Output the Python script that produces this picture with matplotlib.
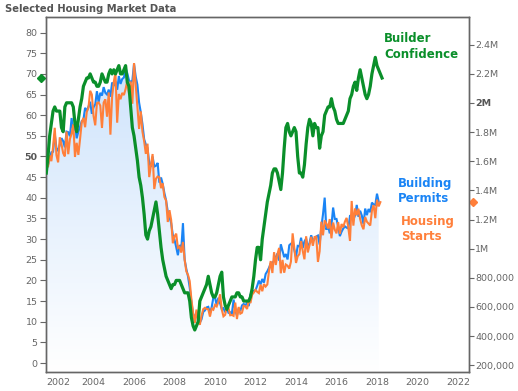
import numpy as np
import matplotlib
matplotlib.use("Agg")
import matplotlib.pyplot as plt
from matplotlib.transforms import ScaledTranslation
from matplotlib.patches import Polygon

# ---------------- data (monthly) ----------------
start_year, start_month = 2001, 9  # first observation: Sep 2001

# NAHB builder confidence index (Sep 2001 - Apr 2018)
builder_confidence = [
    46, 50, 55, 58,
    61, 62, 61, 61, 61, 57, 56, 62, 63, 63, 63, 63,
    62, 58, 56, 59, 62, 64, 67, 68, 69, 69, 70, 69,
    68, 68, 67, 67, 68, 70, 69, 68, 68, 70, 71, 70,
    71, 70, 71, 72, 70, 70, 71, 72, 68, 67, 62, 57,
    55, 52, 49, 45, 43, 40, 36, 31, 30, 32, 33, 35,
    37, 39, 36, 32, 28, 25, 23, 21, 20, 19, 18, 19,
    19, 20, 20, 20, 19, 18, 17, 17, 17, 15, 11, 9,
    8, 9, 10, 15, 16, 17, 18, 19, 21, 19, 17, 16,
    16, 17, 19, 21, 22, 16, 14, 13, 14, 15, 16, 16,
    16, 17, 17, 16, 16, 15, 15, 15, 15, 16, 18, 21,
    25, 28, 28, 25, 30, 33, 36, 39, 41, 43, 46, 47,
    47, 46, 44, 42, 46, 52, 57, 58, 56, 55, 56, 57,
    56, 50, 46, 46, 45, 48, 53, 57, 59, 58, 55, 58,
    57, 57, 52, 55, 56, 60, 61, 62, 62, 64, 62, 61,
    59, 58, 58, 58, 58, 59, 60, 61, 64, 65, 67, 68,
    66, 69, 71, 69, 67, 65, 64, 65, 67, 70, 72, 74,
    72, 71, 70, 69,
]

# Housing starts, thousands SAAR (Sep 2001 - Mar 2018)
housing_starts = [
    1590, 1560, 1640, 1600,
    1698, 1829, 1642, 1592, 1764, 1717, 1655, 1633, 1804, 1648, 1753, 1788,
    1853, 1629, 1726, 1643, 1751, 1867, 1897, 1833, 1939, 1967, 2083, 2057,
    1911, 1846, 1998, 2003, 1981, 1828, 2002, 2024, 1905, 2072, 1782, 2042,
    2144, 2207, 1864, 2061, 2025, 2068, 2054, 2095, 2151, 2065, 2147, 1994,
    2273, 2119, 1969, 1821, 1942, 1802, 1737, 1650, 1720, 1491, 1570, 1649,
    1409, 1480, 1495, 1490, 1415, 1448, 1354, 1330, 1183, 1264, 1197, 1037,
    1084, 1103, 1005, 1013, 973, 1046, 923, 844, 820, 777, 652, 560,
    490, 582, 505, 478, 540, 585, 594, 586, 585, 534, 588, 581,
    614, 604, 636, 687, 583, 536, 546, 599, 594, 543, 545, 539,
    630, 517, 600, 554, 561, 608, 604, 586, 649, 627, 685, 699,
    717, 704, 695, 753, 708, 757, 740, 754, 847, 915, 833, 976,
    888, 962, 1005, 831, 923, 835, 891, 883, 863, 911, 1105, 1003,
    902, 948, 962, 1052, 984, 927, 1085, 974, 1023, 1081, 1020, 1080,
    1082, 909, 982, 1185, 1092, 1194, 1172, 1138, 1203, 1071, 1179, 1129,
    1105, 1182, 1101, 1169, 1147, 1186, 1211, 1145, 1053, 1327, 1158, 1276,
    1229, 1274, 1203, 1159, 1133, 1217, 1185, 1172, 1159, 1261, 1299, 1209,
    1336, 1290, 1319,
]

# Building permits, thousands SAAR (Sep 2001 - Feb 2018)
building_permits = [
    1540, 1574, 1615, 1661,
    1665, 1787, 1691, 1669, 1716, 1758, 1738, 1695, 1803, 1799, 1771, 1896,
    1808, 1854, 1757, 1803, 1835, 1875, 1885, 1966, 1944, 1974, 2008, 1925,
    1970, 1990, 2080, 2005, 2069, 2050, 2108, 2069, 2057, 2091, 2042, 2140,
    2116, 2150, 2090, 2184, 2130, 2164, 2174, 2238, 2203, 2156, 2142, 2153,
    2267, 2180, 2124, 2002, 1935, 1854, 1751, 1714, 1690, 1588, 1561, 1632,
    1563, 1569, 1588, 1453, 1488, 1444, 1381, 1331, 1254, 1218, 1176, 1094,
    1061, 1010, 955, 1025, 998, 1175, 925, 860, 809, 733, 636, 551,
    522, 567, 528, 493, 515, 566, 576, 597, 601, 561, 597, 664,
    667, 612, 663, 626, 585, 592, 564, 589, 560, 564, 555, 651,
    577, 541, 590, 573, 611, 621, 609, 630, 606, 684, 708, 710,
    716, 745, 781, 755, 792, 767, 826, 845, 869, 898, 904, 915,
    941, 967, 918, 1030, 985, 942, 963, 926, 1023, 1034, 1039, 990,
    943, 1019, 1015, 1075, 1005, 1050, 1069, 1006, 1038, 1092, 1052, 1068,
    1083, 1090, 1028, 1147, 1236, 1350, 1130, 1161, 1105, 1158, 1282, 1204,
    1204, 1152, 1086, 1116, 1138, 1153, 1144, 1139, 1225, 1229, 1201, 1228,
    1300, 1219, 1260, 1228, 1168, 1275, 1230, 1272, 1250, 1316, 1303, 1300,
    1377, 1323,
]

x_ticks = list(range(2002, 2023, 2))
left_ticks = list(range(0, 81, 5))
right_ticks = [200000, 400000, 600000, 800000, 1000000, 1200000, 1400000,
               1600000, 1800000, 2000000, 2200000, 2400000]
right_tick_labels = ["200,000", "400,000", "600,000", "800,000", "1M", "1.2M",
                     "1.4M", "1.6M", "1.8M", "2M", "2.2M", "2.4M"]

title = "Selected Housing Market Data"

# ---------------- styling ----------------
GREEN = "#0a8f2a"
BLUE = "#1a84f5"
ORANGE = "#ff7f3a"
GRID = "#666666"
TICKC = "#666666"
W, H, DPI = 518, 391, 100


def months_to_year(n):
    return start_year + (start_month - 1 + np.arange(n)) / 12.0


x_hmi = months_to_year(len(builder_confidence))
x_starts = months_to_year(len(housing_starts))
x_perm = months_to_year(len(building_permits))
starts = np.array(housing_starts) * 1000.0
permits = np.array(building_permits) * 1000.0
hmi = np.array(builder_confidence, dtype=float)

fig = plt.figure(figsize=(W / DPI, H / DPI), dpi=DPI)
fig.patch.set_facecolor("white")

L, R, B, T = 46.3, 468.7, 371.7, 17.3
ax = fig.add_axes([L / W, 1 - B / H, (R - L) / W, (B - T) / H])
ax2 = ax.twinx()

xmin, xmax = start_year + (start_month - 1) / 12.0, 2022.53
ax.set_xlim(xmin, xmax)
ax.set_ylim(156000, 2587000)
ax2.set_ylim(-2.1, 83.7)

# gradient area under permits
ylo = ax.get_ylim()[0]
verts = [(x_perm[0], ylo)] + list(zip(x_perm, permits)) + [(x_perm[-1], ylo)]
poly = Polygon(verts, closed=True, facecolor="none", edgecolor="none")
ax.add_patch(poly)
grad = np.linspace(0, 1, 256).reshape(-1, 1)
top_c = np.array([0.78, 0.875, 0.985])
bot_c = np.array([1.0, 1.0, 1.0])
img = (top_c * (1 - grad)[..., None] + bot_c * grad[..., None])
img = img.reshape(256, 1, 3)
im = ax.imshow(img, extent=[xmin, xmax, ax.get_ylim()[0], ax.get_ylim()[1]],
               aspect="auto", origin="upper", zorder=1, interpolation="bilinear")
im.set_clip_path(poly)

ax.plot(x_perm, permits, color=BLUE, lw=1.5, zorder=3, solid_joinstyle="miter")
ax.plot(x_starts, starts, color=ORANGE, lw=1.5, zorder=4, solid_joinstyle="miter")
ax2.plot(x_hmi, hmi, color=GREEN, lw=2.3, zorder=5)

# end-value diamonds on axes
off_r = ScaledTranslation(4.0 / DPI, 0, fig.dpi_scale_trans)
off_l = ScaledTranslation(-5.0 / DPI, 0, fig.dpi_scale_trans)
ax.plot([xmax], [starts[-1]], marker="D", ms=3.6, color=ORANGE,
        transform=ax.transData + off_r, clip_on=False, zorder=6)
ax2.plot([xmin], [hmi[-1]], marker="D", ms=3.6, color=GREEN,
         transform=ax2.transData + off_l, clip_on=False, zorder=6)

# axes formatting
for a in (ax, ax2):
    for s in a.spines.values():
        s.set_color(GRID)
        s.set_linewidth(1.0)

ax.yaxis.tick_right()
ax2.yaxis.tick_left()
ax.set_yticks(right_ticks)
ax.set_yticklabels(right_tick_labels)
ax2.set_yticks(left_ticks)
ax2.set_yticklabels([str(v) for v in left_ticks])
ax.set_xticks(x_ticks)
ax.set_xticklabels([str(v) for v in x_ticks])

ax.tick_params(axis="y", which="both", length=4.5 * 72 / DPI, width=0.8,
               color=GRID, pad=1.5, labelsize=6.8, labelcolor=TICKC,
               right=True, left=False, labelright=True, labelleft=False)
ax2.tick_params(axis="y", which="both", length=6 * 72 / DPI, width=0.8,
                color=GRID, pad=2.0, labelsize=6.8, labelcolor=TICKC,
                left=True, right=False, labelleft=True, labelright=False)
ax.tick_params(axis="x", length=0, pad=4.3, labelsize=6.8, labelcolor=TICKC)

# emphasised reference levels (50 on left, 2M on right)
for lbl in ax2.get_yticklabels():
    if lbl.get_text() == "50":
        lbl.set_fontweight("bold")
        lbl.set_color("#555555")
for lbl in ax.get_yticklabels():
    if lbl.get_text() == "2M":
        lbl.set_fontweight("bold")
        lbl.set_color("#555555")

# keep first x label inside plot area (justified like the original)
first_tick = ax.xaxis.get_major_ticks()[0]
first_tick.label1.set_transform(first_tick.label1.get_transform() +
                                ScaledTranslation(5.5 / DPI, 0, fig.dpi_scale_trans))

# title
fig.text(5 / W, 1 - 8.5 / H, title, ha="left", va="center", fontsize=7.2,
         fontweight="bold", color="#555555")


def ftext(px, py, s, color):
    fig.text(px / W, 1 - py / H, s, ha="left", va="center", fontsize=8.5,
             fontweight="bold", color=color)


ftext(384.3, 38.5, "Builder", GREEN)
ftext(384.3, 54.3, "Confidence", GREEN)
ftext(398.3, 184.0, "Building", BLUE)
ftext(398.3, 198.8, "Permits", BLUE)
ftext(400.7, 221.7, "Housing", ORANGE)
ftext(400.7, 236.7, "Starts", ORANGE)

fig.savefig("out.png", dpi=DPI)
